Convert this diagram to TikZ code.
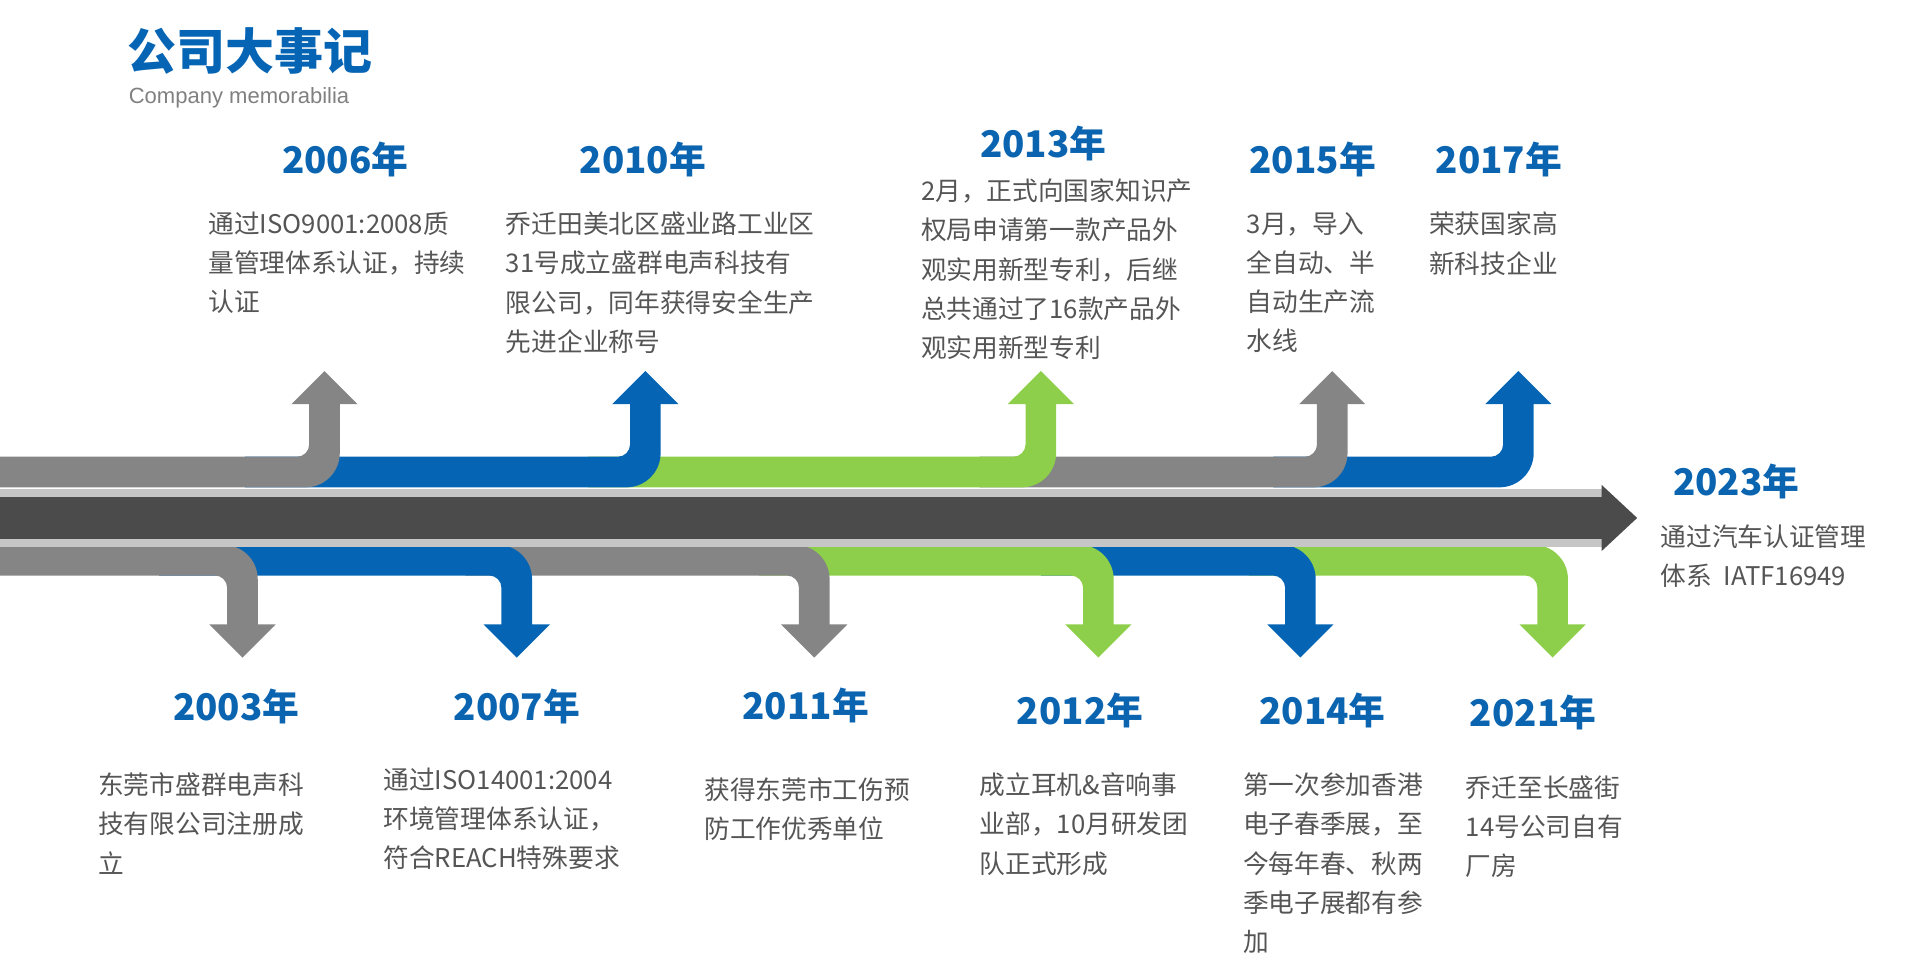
\documentclass[tikz,border=0pt]{standalone}
\usepackage{fontspec}
\setmainfont{Noto Sans CJK SC}
\newfontfamily\latin{Liberation Sans}
\definecolor{cblue}{HTML}{0565B4}
\definecolor{cgreen}{HTML}{8DCF4A}
\definecolor{cgray}{HTML}{858585}
\definecolor{cdark}{HTML}{4B4B4B}
\definecolor{ctext}{HTML}{555555}
\definecolor{cyear}{HTML}{0A64B0}
\newcommand\upseg[3]{% color, xs, xa
  \fill[#1] (#2,373) [rounded corners=10pt]-- ({#3-12.5},373) [sharp corners]-- ({#3-12.5},330) -- ({#3-27},330) -- (#3,303) -- ({#3+27},330) -- ({#3+12.5},330) [rounded corners=28pt]-- ({#3+12.5},398) [sharp corners]-- (#2,398) -- cycle;}
\newcommand\dnseg[3]{%
  \fill[#1] (#2,445) [rounded corners=28pt]-- ({#3+12.5},445) [sharp corners]-- ({#3+12.5},510) -- ({#3+27},510) -- (#3,537) -- ({#3-27},510) -- ({#3-12.5},510) [rounded corners=10pt]-- ({#3-12.5},470) [sharp corners]-- (#2,470) -- cycle;}
\begin{document}
\begin{tikzpicture}[x=1pt,y=-1pt,
  year/.style={text=cyear,font=\fontsize{30}{32}\selectfont\bfseries,inner sep=0pt},
  desc/.style={text=ctext,font=\fontsize{21}{32}\selectfont,align=left,anchor=north west,inner sep=0pt}]
\useasboundingbox (0,0) rectangle (1568,798);
% upper band
\upseg{cblue}{1040}{1240}
\upseg{cgray}{800}{1088}
\upseg{cgreen}{480}{850}
\upseg{cblue}{200}{527}
\upseg{cgray}{0}{265}
% lower band
\dnseg{cgreen}{1020}{1268}
\dnseg{cblue}{850}{1062}
\dnseg{cgreen}{620}{897}
\dnseg{cgray}{380}{665}
\dnseg{cblue}{130}{422}
\dnseg{cgray}{0}{198}
% central arrow
\fill[gray!45] (0,399) rectangle (1310,447);
\fill[cdark] (0,406) rectangle (1310,440);
\fill[cdark] (1308,396) -- (1337,423) -- (1308,450) -- cycle;
% title
\node[anchor=west,text=cblue,font=\fontsize{40}{42}\selectfont\bfseries,inner sep=0pt] (title) at (104,42) {公司大事记};
\node[anchor=west,text=gray,font=\latin\fontsize{18}{20}\selectfont,inner sep=0pt] (sub) at (105,80) {Company memorabilia};
% upper texts
\node[year] (y2006) at (282,130) {2006年};
\node[desc] (d2006) at (170,173) {通过ISO9001:2008质\\量管理体系认证，持续\\认证};
\node[year] (y2010) at (525,130) {2010年};
\node[desc] (d2010) at (413,173) {乔迁田美北区盛业路工业区\\31号成立盛群电声科技有\\限公司，同年获得安全生产\\先进企业称号};
\node[year] (y2013) at (852,117) {2013年};
\node[desc] (d2013) at (752,146) {2月，正式向国家知识产\\权局申请第一款产品外\\观实用新型专利，后继\\总共通过了16款产品外\\观实用新型专利};
\node[year] (y2015) at (1072,130) {2015年};
\node[desc] (d2015) at (1018,173) {3月，导入\\全自动、半\\自动生产流\\水线};
\node[year] (y2017) at (1224,130) {2017年};
\node[desc] (d2017) at (1167,173) {荣获国家高\\新科技企业};
% 2023
\node[year] (y2023) at (1418,393) {2023年};
\node[desc] (d2023) at (1356,428) {通过汽车认证管理\\体系\ \ IATF16949};
% lower texts
\node[year] (y2003) at (193,577) {2003年};
\node[desc] (d2003) at (80,631) {东莞市盛群电声科\\技有限公司注册成\\立};
\node[year] (y2007) at (422,577) {2007年};
\node[desc] (d2007) at (313,627) {通过ISO14001:2004\\环境管理体系认证，\\符合REACH特殊要求};
\node[year] (y2011) at (658,576) {2011年};
\node[desc] (d2011) at (575,635) {获得东莞市工伤预\\防工作优秀单位};
\node[year] (y2012) at (882,580) {2012年};
\node[desc] (d2012) at (800,631) {成立耳机\&音响事\\业部，10月研发团\\队正式形成};
\node[year] (y2014) at (1080,580) {2014年};
\node[desc] (d2014) at (1015,631) {第一次参加香港\\电子春季展，至\\今每年春、秋两\\季电子展都有参\\加};
\node[year] (y2021) at (1252,582) {2021年};
\node[desc] (d2021) at (1197,633) {乔迁至长盛街\\14号公司自有\\厂房};
\end{tikzpicture}
\end{document}
